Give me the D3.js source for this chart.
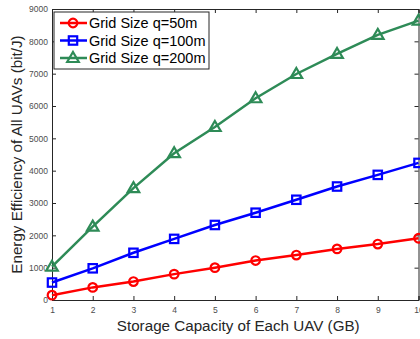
<!DOCTYPE html>
<html>
<head>
<meta charset="utf-8">
<style>
  body { margin: 0; background: #fff; }
  svg { display: block; font-family: "Liberation Sans", Arial, sans-serif; }
  .axis path, .axis line { stroke: #262626; }
  .axis text { fill: #4d4d4d; font-size: 8.5px; }
  .line { fill: none; stroke-width: 2.5px; }
</style>
</head>
<body>
<svg width="420" height="339"></svg>
<script src="https://cdn.jsdelivr.net/npm/d3@7"></script>
<script>
var storage = [1, 2, 3, 4, 5, 6, 7, 8, 9, 10];
var grid50 = [150, 390, 570, 800, 1000, 1220, 1390, 1580, 1730, 1910];
var grid100 = [540, 980, 1460, 1890, 2320, 2700, 3100, 3510, 3870, 4240];
var grid200 = [1030, 2270, 3460, 4540, 5350, 6240, 6990, 7610, 8200, 8640];
var yTicks = [0, 1000, 2000, 3000, 4000, 5000, 6000, 7000, 8000, 9000];
var seriesNames = ["Grid Size q=50m", "Grid Size q=100m", "Grid Size q=200m"];

var series = [
    { name: seriesNames[0], values: grid50, color: "#ff0000", marker: "circle" },
    { name: seriesNames[1], values: grid100, color: "#0000ff", marker: "square" },
    { name: seriesNames[2], values: grid200, color: "#2e8b57", marker: "triangle" }
];

var margin = { top: 9, right: 1.5, bottom: 39, left: 52 };
var svg = d3.select("svg"),
    width = +svg.attr("width") - margin.left - margin.right,
    height = +svg.attr("height") - margin.top - margin.bottom,
    g = svg.append("g").attr("transform", "translate(" + margin.left + "," + margin.top + ")");

var x = d3.scaleLinear().domain([1, 10]).range([0, width]);
var y = d3.scaleLinear().domain([0, 9000]).range([height, 0]);

// axes with inward ticks, box all round
g.append("g").attr("class", "axis")
    .attr("transform", "translate(0," + height + ")")
    .call(d3.axisBottom(x).tickValues(storage).tickSize(-4).tickPadding(7).tickFormat(d3.format("d")));
g.append("g").attr("class", "axis")
    .call(d3.axisLeft(y).tickValues(yTicks).tickSize(-4).tickPadding(4).tickFormat(d3.format("d")));
g.append("g").attr("class", "axis")
    .call(d3.axisTop(x).tickValues(storage).tickSize(-4).tickFormat(""));
g.append("g").attr("class", "axis")
    .attr("transform", "translate(" + width + ",0)")
    .call(d3.axisRight(y).tickValues(yTicks).tickSize(-4).tickFormat(""));

var line = d3.line()
    .x(function (d, i) { return x(storage[i]); })
    .y(function (d) { return y(d); });

function drawMarker(sel, type, color) {
    if (type === "circle") {
        sel.append("circle").attr("r", 4.3);
    } else if (type === "square") {
        sel.append("rect").attr("x", -4.2).attr("y", -4.2).attr("width", 8.4).attr("height", 8.4);
    } else {
        sel.append("path").attr("d", "M0,-6L5.8,4L-5.8,4Z");
    }
    sel.selectAll("*").attr("fill", "none").attr("stroke", color).attr("stroke-width", 2.2);
}

series.forEach(function (s) {
    g.append("path")
        .attr("class", "line")
        .attr("d", line(s.values))
        .style("stroke", s.color);
    g.selectAll(".m-" + s.marker)
        .data(s.values)
        .enter().append("g")
        .attr("class", "m-" + s.marker)
        .attr("transform", function (d, i) { return "translate(" + x(storage[i]) + "," + y(d) + ")"; })
        .each(function () { drawMarker(d3.select(this), s.marker, s.color); });
});

// legend
var legend = g.append("g").attr("transform", "translate(2,3)");
legend.append("rect")
    .attr("width", 155).attr("height", 57)
    .attr("fill", "#fff").attr("stroke", "#262626").attr("stroke-width", 1);
series.forEach(function (s, i) {
    var row = legend.append("g").attr("transform", "translate(0," + (11 + i * 17.5) + ")");
    row.append("line").attr("x1", 6).attr("x2", 33)
        .attr("stroke", s.color).attr("stroke-width", 2.5);
    var m = row.append("g").attr("transform", "translate(19,0)");
    drawMarker(m, s.marker, s.color);
    row.append("text").attr("x", 35).attr("dy", "0.36em")
        .style("font-size", "14.5px").attr("fill", "#000")
        .text(s.name);
});

// axis titles
svg.append("text")
    .attr("x", margin.left + width / 2 + 3).attr("y", 331)
    .attr("text-anchor", "middle")
    .style("font-size", "15.2px").attr("fill", "#262626")
    .text("Storage Capacity of Each UAV (GB)");
svg.append("text")
    .attr("transform", "translate(22," + (margin.top + height / 2) + ") rotate(-90)")
    .attr("text-anchor", "middle")
    .style("font-size", "15.2px").attr("fill", "#262626")
    .text("Energy Efficiency of All UAVs (bit/J)");
</script>
</body>
</html>
